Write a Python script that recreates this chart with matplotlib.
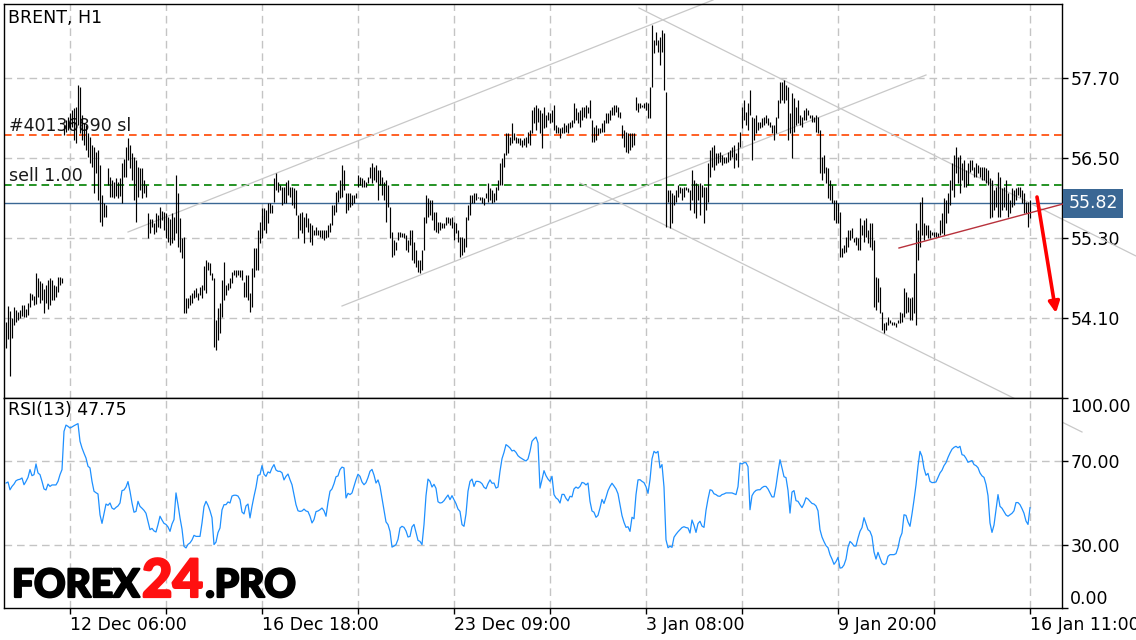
import numpy as np
import matplotlib.pyplot as plt
import matplotlib.transforms as mtransforms
import matplotlib.patheffects as pe

plt.rcParams['font.family'] = ['DejaVu Sans']
plt.rcParams['lines.scale_dashes'] = False

# BRENT H1 bars, one value per hour (high / low)
highs = [
    54.04, 54.28, 54.21, 54.10, 54.27, 54.22, 54.19, 54.22, 54.30, 54.30,
    54.24, 54.33, 54.48, 54.46, 54.43, 54.78, 54.70, 54.66, 54.63, 54.54,
    54.60, 54.67, 54.70, 54.67, 54.60, 54.58, 54.72, 54.72, 54.70, 57.00,
    57.07, 57.12, 57.18, 57.22, 57.25, 57.27, 57.60, 57.57, 57.15, 57.03,
    57.00, 56.88, 56.82, 56.70, 56.67, 56.59, 56.62, 56.40, 55.95, 55.83,
    55.80, 56.35, 56.22, 56.17, 56.14, 56.20, 56.14, 56.20, 56.43, 56.49,
    56.67, 56.80, 56.70, 56.58, 56.52, 56.47, 56.37, 56.35, 56.35, 56.17,
    56.10, 55.68, 55.59, 55.59, 55.53, 55.68, 55.65, 55.77, 55.71, 55.69,
    55.68, 55.62, 55.59, 55.68, 55.62, 56.25, 55.98, 55.60, 55.30, 55.32,
    54.40, 54.40, 54.45, 54.48, 54.52, 54.55, 54.48, 54.57, 54.60, 54.88,
    54.97, 54.94, 54.93, 54.78, 54.70, 54.07, 54.25, 54.33, 54.67, 54.94,
    54.60, 54.63, 54.70, 54.79, 54.82, 54.82, 54.82, 54.82, 54.82, 54.64,
    54.75, 54.75, 54.48, 54.85, 55.15, 55.15, 55.42, 55.54, 55.75, 55.75,
    55.72, 55.83, 55.83, 55.80, 56.20, 56.28, 56.14, 56.10, 56.07, 56.07,
    56.14, 56.17, 56.07, 56.07, 56.05, 56.02, 55.65, 55.68, 55.69, 55.62,
    55.68, 55.60, 55.53, 55.50, 55.42, 55.47, 55.42, 55.42, 55.42, 55.42,
    55.42, 55.50, 55.53, 55.80, 55.80, 55.99, 56.02, 56.17, 56.40, 56.32,
    55.98, 55.98, 55.98, 55.95, 55.95, 55.98, 56.25, 56.22, 56.20, 56.17,
    56.14, 56.22, 56.37, 56.43, 56.37, 56.40, 56.32, 56.32, 56.22, 56.14,
    56.17, 56.10, 55.77, 55.39, 55.27, 55.24, 55.39, 55.39, 55.38, 55.38,
    55.35, 55.27, 55.42, 55.42, 55.24, 55.12, 54.97, 54.97, 55.12, 55.62,
    55.95, 55.90, 55.87, 55.87, 55.69, 55.69, 55.54, 55.54, 55.53, 55.53,
    55.62, 55.62, 55.60, 55.62, 55.54, 55.53, 55.42, 55.32, 55.32, 55.30,
    55.62, 55.80, 55.95, 55.95, 55.98, 55.98, 55.92, 55.92, 55.92, 55.90,
    55.98, 56.13, 56.05, 56.02, 55.98, 56.07, 56.17, 56.43, 56.50, 56.58,
    56.88, 56.88, 56.82, 57.03, 56.88, 56.82, 56.80, 56.80, 56.77, 56.80,
    56.82, 56.89, 56.92, 57.22, 57.27, 57.30, 57.25, 57.22, 57.18, 57.27,
    57.15, 57.19, 57.18, 57.22, 57.30, 57.00, 56.97, 56.95, 56.97, 57.03,
    57.00, 57.03, 57.04, 57.07, 57.33, 57.25, 57.19, 57.22, 57.27, 57.27,
    57.30, 57.27, 57.37, 57.07, 56.97, 57.00, 56.95, 56.95, 57.03, 57.07,
    57.18, 57.18, 57.22, 57.27, 57.30, 57.30, 57.27, 57.19, 57.00, 56.92,
    56.89, 56.88, 56.88, 56.88, 56.88, 57.42, 57.33, 57.33, 57.30, 57.33,
    57.34, 57.33, 57.57, 58.50, 58.27, 58.39, 58.27, 58.32, 58.42, 58.38,
    57.49, 56.02, 56.02, 55.98, 55.95, 56.02, 56.10, 56.07, 56.05, 56.07,
    56.07, 56.05, 56.02, 56.32, 56.17, 56.13, 56.10, 56.13, 56.10, 56.07,
    56.07, 56.43, 56.62, 56.67, 56.70, 56.58, 56.58, 56.59, 56.55, 56.52,
    56.52, 56.59, 56.62, 56.67, 56.70, 56.58, 56.74, 56.89, 57.27, 57.37,
    57.19, 57.33, 57.52, 57.12, 57.10, 57.15, 57.04, 57.04, 57.10, 57.12,
    57.15, 57.10, 57.04, 57.00, 57.00, 57.12, 57.37, 57.64, 57.64, 57.67,
    57.60, 57.57, 57.18, 57.48, 57.40, 57.27, 57.37, 57.15, 57.12, 57.22,
    57.25, 57.22, 57.15, 57.15, 57.12, 57.15, 57.12, 56.92, 56.52, 56.55,
    56.37, 56.35, 56.17, 56.10, 55.87, 55.87, 55.83, 55.69, 55.15, 55.20,
    55.32, 55.42, 55.42, 55.45, 55.30, 55.32, 55.30, 55.60, 55.50, 55.57,
    55.60, 55.42, 55.53, 55.53, 55.27, 54.72, 54.70, 54.57, 54.19, 54.03,
    54.04, 54.12, 54.07, 54.04, 54.04, 54.03, 54.07, 54.19, 54.18, 54.55,
    54.49, 54.42, 54.40, 54.42, 54.78, 55.53, 55.42, 55.84, 55.92, 55.53,
    55.50, 55.50, 55.42, 55.39, 55.39, 55.39, 55.38, 55.57, 55.68, 55.90,
    55.87, 55.98, 56.17, 56.43, 56.55, 56.67, 56.52, 56.55, 56.43, 56.47,
    56.32, 56.43, 56.47, 56.47, 56.37, 56.43, 56.40, 56.37, 56.37, 56.37,
    56.35, 56.32, 56.20, 56.17, 56.02, 56.07, 56.29, 56.22, 56.05, 56.07,
    56.17, 55.98, 55.87, 56.05, 56.02, 56.05, 56.07, 56.07, 56.02, 55.98,
    55.84, 55.84, 55.87,
]
lows = [
    53.65, 53.79, 53.23, 53.80, 54.00, 54.04, 54.07, 54.10, 54.13, 54.12,
    54.12, 54.15, 54.27, 54.37, 54.30, 54.31, 54.42, 54.33, 54.37, 54.18,
    54.33, 54.24, 54.30, 54.37, 54.37, 54.42, 54.49, 54.60, 54.63, 56.85,
    56.89, 56.92, 56.95, 56.97, 56.77, 56.73, 57.00, 56.88, 56.77, 56.70,
    56.62, 56.52, 56.43, 56.37, 55.98, 56.28, 55.87, 55.54, 55.48, 55.62,
    55.62, 56.10, 55.92, 55.92, 55.90, 55.93, 55.90, 55.93, 55.83, 56.22,
    56.22, 56.47, 56.35, 56.17, 55.87, 55.54, 55.92, 56.02, 55.90, 55.98,
    55.92, 55.30, 55.38, 55.47, 55.36, 55.39, 55.47, 55.45, 55.57, 55.42,
    55.30, 55.24, 55.20, 55.23, 55.27, 55.38, 55.17, 55.09, 55.00, 54.18,
    54.18, 54.25, 54.30, 54.33, 54.40, 54.42, 54.37, 54.45, 54.40, 54.52,
    54.48, 54.82, 54.75, 54.67, 53.67, 53.62, 53.77, 53.88, 54.12, 54.37,
    54.45, 54.52, 54.55, 54.63, 54.75, 54.72, 54.75, 54.72, 54.67, 54.42,
    54.42, 54.37, 54.19, 54.27, 54.72, 54.82, 54.82, 55.23, 55.30, 55.42,
    55.38, 55.53, 55.68, 55.68, 55.84, 56.02, 55.99, 56.02, 55.80, 55.83,
    55.83, 55.95, 55.92, 55.80, 55.75, 55.65, 55.30, 55.42, 55.38, 55.23,
    55.47, 55.39, 55.24, 55.20, 55.35, 55.35, 55.35, 55.32, 55.30, 55.27,
    55.30, 55.32, 55.39, 55.50, 55.65, 55.69, 55.84, 55.90, 55.92, 56.02,
    55.68, 55.72, 55.77, 55.80, 55.83, 55.90, 56.07, 56.10, 56.07, 56.07,
    56.07, 56.13, 56.20, 56.13, 56.17, 56.14, 55.87, 56.10, 55.95, 55.87,
    55.54, 55.77, 55.30, 55.02, 55.05, 55.12, 55.27, 55.32, 55.32, 55.30,
    55.12, 55.09, 55.20, 54.97, 54.93, 54.87, 54.79, 54.78, 54.82, 55.12,
    55.53, 55.62, 55.65, 55.57, 55.42, 55.39, 55.38, 55.42, 55.45, 55.45,
    55.50, 55.53, 55.50, 55.45, 55.27, 55.38, 55.24, 55.02, 55.05, 55.09,
    55.17, 55.57, 55.65, 55.83, 55.83, 55.87, 55.90, 55.87, 55.83, 55.80,
    55.90, 55.84, 55.87, 55.83, 55.84, 55.87, 56.02, 56.10, 56.10, 56.37,
    56.55, 56.58, 56.70, 56.73, 56.77, 56.73, 56.73, 56.70, 56.67, 56.70,
    56.67, 56.73, 56.70, 56.88, 57.03, 56.92, 57.04, 56.88, 56.65, 56.95,
    56.97, 57.07, 57.03, 57.04, 56.92, 56.88, 56.88, 56.80, 56.88, 56.88,
    56.89, 56.88, 56.95, 56.97, 57.03, 57.07, 57.03, 56.97, 57.07, 57.12,
    57.10, 57.18, 57.10, 56.74, 56.74, 56.77, 56.85, 56.88, 56.89, 56.89,
    57.03, 57.03, 57.07, 57.15, 57.15, 57.19, 57.12, 57.10, 56.80, 56.67,
    56.59, 56.58, 56.62, 56.67, 56.70, 57.22, 57.19, 57.25, 57.27, 57.25,
    57.22, 57.10, 57.10, 57.57, 58.08, 58.20, 58.09, 57.90, 58.09, 57.52,
    55.47, 55.84, 55.45, 55.53, 55.80, 55.84, 55.92, 55.98, 55.87, 55.92,
    56.02, 55.99, 55.72, 55.87, 55.68, 55.60, 55.87, 55.65, 55.92, 55.53,
    55.72, 55.84, 56.22, 56.37, 56.32, 56.40, 56.43, 56.44, 56.40, 56.43,
    56.43, 56.44, 56.47, 56.52, 56.35, 56.47, 56.37, 56.67, 56.95, 57.07,
    57.00, 56.92, 57.15, 56.47, 56.77, 56.88, 56.92, 56.95, 56.97, 57.00,
    57.03, 57.00, 56.97, 56.88, 56.77, 56.88, 57.10, 57.33, 57.37, 57.33,
    57.37, 56.77, 56.88, 56.50, 56.89, 57.00, 57.03, 57.00, 56.97, 57.07,
    57.07, 57.15, 57.10, 57.04, 57.04, 56.89, 56.88, 56.28, 56.17, 56.28,
    56.13, 55.90, 55.87, 55.83, 55.57, 55.53, 55.53, 55.02, 55.02, 55.08,
    55.09, 55.17, 55.27, 55.30, 55.24, 55.20, 55.12, 55.12, 55.35, 55.24,
    55.32, 55.23, 55.17, 55.12, 54.27, 54.22, 54.34, 54.18, 53.92, 53.88,
    53.92, 54.00, 54.03, 54.00, 54.00, 53.97, 54.03, 54.03, 54.04, 54.12,
    54.18, 54.19, 54.07, 54.07, 54.18, 54.00, 54.97, 55.17, 55.35, 55.27,
    55.35, 55.30, 55.30, 55.35, 55.32, 55.32, 55.32, 55.35, 55.38, 55.35,
    55.53, 55.68, 55.80, 56.02, 55.92, 56.28, 56.13, 55.98, 56.17, 56.07,
    56.07, 56.10, 56.29, 56.32, 56.22, 56.22, 56.28, 56.22, 56.17, 56.17,
    56.13, 56.10, 55.60, 55.62, 55.72, 55.77, 55.62, 55.62, 55.72, 55.77,
    55.72, 55.62, 55.68, 55.77, 55.80, 55.87, 55.95, 55.92, 55.83, 55.68,
    55.68, 55.47, 55.60,
]

# RSI(13) per bar
rsi = [
    59.5, 60.0, 56.3, 57.9, 59.0, 60.6, 61.1, 61.3, 61.9, 58.7,
    60.3, 62.2, 65.9, 63.0, 63.5, 68.6, 64.3, 63.5, 60.3, 56.7,
    56.2, 59.0, 57.9, 58.6, 58.6, 58.6, 60.3, 63.5, 65.9, 84.1,
    87.1, 86.5, 85.7, 86.2, 86.8, 87.3, 87.8, 79.4, 76.2, 73.7,
    71.4, 67.5, 66.7, 60.3, 55.6, 54.9, 54.3, 44.4, 40.3, 44.8,
    49.5, 48.9, 50.0, 47.6, 47.0, 47.9, 48.6, 50.0, 55.9, 56.2,
    57.6, 60.2, 55.6, 50.0, 45.6, 46.0, 50.8, 48.4, 47.5, 46.5,
    45.1, 41.3, 37.3, 37.9, 36.7, 36.2, 39.7, 43.7, 41.9, 40.3,
    39.8, 38.6, 36.5, 40.0, 42.1, 54.8, 49.2, 42.9, 37.6, 29.4,
    28.6, 30.3, 31.0, 32.4, 34.6, 34.1, 34.1, 34.1, 40.5, 48.3,
    50.8, 48.9, 46.3, 43.0, 30.2, 31.4, 35.9, 38.1, 46.7, 49.2,
    49.2, 50.5, 50.0, 53.3, 53.7, 53.7, 53.3, 51.6, 45.7, 44.8,
    48.6, 49.5, 42.9, 48.4, 53.2, 57.5, 63.2, 63.5, 67.8, 63.7,
    62.7, 64.8, 64.3, 66.7, 68.3, 65.7, 65.1, 65.1, 64.4, 61.0,
    62.7, 63.8, 61.1, 58.7, 54.0, 49.2, 46.3, 46.0, 46.2, 47.1,
    46.2, 45.9, 43.7, 40.5, 42.1, 45.9, 46.2, 46.8, 47.6, 46.3,
    43.7, 50.3, 55.6, 56.7, 59.2, 62.5, 62.9, 65.9, 67.1, 66.7,
    52.4, 54.6, 54.0, 54.8, 57.9, 61.1, 63.7, 62.7, 60.0, 58.7,
    59.7, 62.1, 65.1, 66.0, 63.3, 59.5, 61.0, 57.9, 52.2, 46.2,
    41.0, 39.7, 36.5, 29.0, 29.5, 30.2, 32.7, 38.1, 38.9, 38.4,
    36.7, 33.8, 34.1, 38.6, 39.8, 36.0, 32.2, 31.7, 30.2, 39.7,
    53.5, 61.4, 60.3, 57.6, 58.9, 57.0, 50.6, 50.0, 50.2, 51.1,
    52.5, 53.8, 51.6, 53.5, 51.6, 49.7, 47.1, 46.0, 39.7, 38.9,
    44.8, 55.6, 60.3, 61.4, 57.9, 60.3, 60.3, 60.0, 59.2, 57.5,
    56.8, 59.2, 61.0, 59.4, 59.5, 57.1, 57.6, 65.1, 71.1, 74.1,
    77.8, 77.1, 76.2, 74.8, 75.1, 74.1, 72.5, 71.7, 71.1, 70.5,
    70.0, 71.0, 74.6, 79.4, 80.5, 81.4, 78.6, 57.1, 61.1, 65.4,
    63.0, 61.4, 60.3, 62.7, 54.0, 52.4, 51.7, 50.0, 54.1, 54.1,
    52.2, 51.0, 53.2, 52.9, 56.7, 57.6, 57.0, 57.9, 59.8, 59.5,
    58.6, 59.5, 50.8, 46.2, 45.6, 43.2, 44.1, 47.6, 51.7, 49.8,
    52.7, 55.9, 57.9, 59.4, 58.1, 56.7, 54.4, 49.2, 44.0, 40.8,
    38.4, 38.7, 36.5, 43.2, 42.5, 54.0, 61.0, 61.1, 60.3, 59.7,
    57.8, 54.6, 61.1, 71.0, 74.6, 73.8, 74.6, 66.7, 68.3, 57.6,
    32.5, 28.7, 29.4, 28.9, 33.7, 35.1, 36.3, 37.3, 38.3, 38.7,
    38.3, 38.1, 35.7, 41.9, 39.4, 36.0, 40.2, 41.3, 39.0, 38.4,
    46.5, 51.9, 56.3, 56.0, 54.4, 54.0, 53.3, 53.2, 54.0, 54.3,
    54.8, 54.8, 54.8, 54.8, 54.4, 54.0, 57.8, 69.0, 68.6, 69.2,
    69.2, 67.3, 46.8, 53.5, 55.1, 56.0, 56.3, 56.3, 57.3, 57.9,
    57.9, 56.7, 54.8, 52.9, 52.9, 58.1, 64.8, 70.6, 66.7, 62.5,
    62.1, 56.0, 45.2, 55.2, 55.9, 51.1, 50.8, 49.2, 47.8, 49.7,
    52.5, 51.9, 50.8, 49.8, 49.5, 48.6, 46.3, 37.3, 33.8, 31.6,
    29.7, 28.7, 25.4, 23.3, 20.8, 22.1, 24.1, 19.0, 19.2, 20.5,
    23.3, 29.0, 31.7, 30.8, 29.5, 29.5, 33.3, 36.5, 38.3, 43.0,
    40.2, 37.3, 36.5, 34.0, 26.7, 23.3, 26.5, 23.8, 21.3, 20.6,
    21.1, 24.6, 25.4, 25.4, 25.4, 25.9, 28.7, 33.3, 35.7, 44.4,
    44.1, 41.0, 38.9, 44.8, 51.4, 58.6, 67.5, 74.6, 72.2, 66.5,
    63.2, 64.1, 60.3, 59.7, 59.8, 60.0, 62.2, 64.3, 65.6, 67.8,
    69.2, 71.7, 73.8, 75.6, 76.5, 77.0, 76.3, 77.0, 73.0, 72.7,
    71.3, 69.4, 69.8, 70.2, 68.3, 67.8, 66.8, 64.3, 62.9, 62.2,
    58.9, 53.5, 40.5, 36.0, 39.5, 46.8, 54.0, 48.4, 47.5, 45.9,
    44.3, 43.7, 44.4, 45.1, 46.3, 50.2, 50.2, 49.2, 47.3, 45.1,
    41.4, 39.8, 47.75,
]

price_ticks = [57.70, 56.50, 55.30, 54.10]
rsi_ticks = [0, 30, 70, 100]
rsi_levels = [30, 70]
time_labels = ["12 Dec 06:00", "16 Dec 18:00", "23 Dec 09:00",
               "3 Jan 08:00", "9 Jan 20:00", "16 Jan 11:00"]
grid_bars = [32, 80, 128, 176, 224, 272, 320, 368, 416, 464, 512]

last_price = 55.82
sl_level = 56.85
sell_level = 56.10
rsi_last = 47.75

# hand drawn trend lines: (bar, price) -> (bar, price)
channel_lines = [
    ((61, 55.39), (353.5, 58.87)),
    ((168, 54.28), (460, 57.745)),
    ((316.5, 58.75), (565, 55.03)),
    ((287, 56.125), (538, 52.39)),
]
support_line = ((446.5, 55.15), (528.5, 55.81))
forecast_arrow = ((515.5, 55.915), (525, 54.175))

W, H = 1136, 640
fig = plt.figure(figsize=(W / 100, H / 100), dpi=100)
ax = fig.add_axes([4 / W, 1 - 398 / H, 1058 / W, 394 / H])
ax2 = fig.add_axes([4 / W, 1 - 608 / H, 1058 / W, 210 / H], sharex=ax)

grid_kw = dict(color='#c4c4c4', lw=1.0, ls=(0, (5.5, 3.5)), zorder=1)
for gx in grid_bars:
    ax.axvline(gx, **grid_kw)
    ax2.axvline(gx, **grid_kw)
for gy in price_ticks:
    ax.axhline(gy, **grid_kw)
for gy in rsi_levels:
    ax2.axhline(gy, **grid_kw)

# order levels
ax.axhline(sl_level, color='#ff4500', lw=1.2, ls=(0, (5.5, 3.5)), zorder=2)
ax.axhline(sell_level, color='#008000', lw=1.2, ls=(0, (5.5, 3.5)), zorder=2)
ax.axhline(last_price, color='#3a6794', lw=1.0, zorder=2)

trans_txt = mtransforms.blended_transform_factory(ax.transAxes, ax.transData)
ax.text(0.005, sl_level, "#40136890 sl", transform=trans_txt, fontsize=12.5,
        color='#1a1a1a', va='bottom', ha='left', zorder=2)
ax.text(0.005, sell_level, "sell 1.00", transform=trans_txt, fontsize=12.5,
        color='#1a1a1a', va='bottom', ha='left', zorder=2)

# price bars
bars_x = np.arange(len(highs))
ax.vlines(bars_x, lows, highs, color='black', lw=0.85, zorder=3)

# trend lines
for (x0, y0), (x1, y1) in channel_lines:
    ax.plot([x0, x1], [y0, y1], color='#c8c8c8', lw=0.9, zorder=2, clip_on=False)
ax.plot([support_line[0][0], support_line[1][0]], [support_line[0][1], support_line[1][1]],
        color='#b8323c', lw=1.0, zorder=4, clip_on=False)
ax.annotate('', xy=forecast_arrow[1], xytext=forecast_arrow[0],
            arrowprops=dict(arrowstyle='-|>', color='#ff0000', lw=2.6, mutation_scale=16,
                            shrinkA=0, shrinkB=0),
            annotation_clip=False, zorder=5)

ax.set_xlim(-1, 528)
ax.set_ylim(52.90, 58.81)
ax.yaxis.tick_right()
ax.set_yticks(price_ticks)
ax.set_yticklabels([f"{v:.2f}" for v in price_ticks])
ax.tick_params(axis='y', direction='out', length=4, width=1, pad=2, labelsize=12.5)
ax.tick_params(axis='x', bottom=False, labelbottom=False)

ax.text(1.006, last_price, f"{last_price:.2f}", transform=trans_txt,
        color='white', fontsize=12.5, va='center', ha='left', zorder=6,
        bbox=dict(boxstyle='square,pad=0.3', fc='#3a6794', ec='none'), clip_on=False)

# RSI panel
ax2.plot(np.arange(len(rsi)), rsi, color='#1e90ff', lw=0.9, zorder=3)
ax2.set_ylim(0, 100)
ax2.yaxis.tick_right()
ax2.set_yticks(rsi_ticks)
ax2.set_yticklabels([f"{v:.2f}" for v in rsi_ticks])
ax2.tick_params(axis='y', direction='out', length=4, width=1, pad=2, labelsize=12.5)
ylabs = ax2.get_yticklabels()
ylabs[0].set_va('bottom')
ylabs[-1].set_va('top')

ax2.set_xticks(grid_bars)
ax2.set_xticklabels([time_labels[k // 2] if k % 2 == 0 else "" for k in range(len(grid_bars))])
ax2.tick_params(axis='x', direction='out', length=4, width=1, pad=2, labelsize=12.5)
for lab in ax2.get_xticklabels():
    lab.set_ha('left')

for a in (ax, ax2):
    for sp in a.spines.values():
        sp.set_color('black')
        sp.set_linewidth(1.0)

fig.text(8 / W, 1 - 18 / H, "BRENT, H1", fontsize=12.5, va='center', ha='left')
fig.text(8 / W, 1 - 410 / H, f"RSI(13) {rsi_last:.2f}", fontsize=12.5, va='center', ha='left')

# watermark
fig.canvas.draw()
rend = fig.canvas.get_renderer()
wm_y = 1 - 597 / H
t1 = fig.text(12 / W, wm_y, "FOREX", fontsize=28, fontweight='black', family='Lato',
              color='black', va='baseline', ha='left',
              path_effects=[pe.withStroke(linewidth=1.6, foreground='black')])
bb = t1.get_window_extent(rend)
t2 = fig.text(bb.x1 / W + 0.002, wm_y, "24", fontsize=38, fontweight='black', family='Lato',
              color='#ff1010', va='baseline', ha='left',
              path_effects=[pe.withStroke(linewidth=1.6, foreground='#ff1010')])
bb = t2.get_window_extent(rend)
fig.text(bb.x1 / W + 0.002, wm_y, ".PRO", fontsize=28, fontweight='black', family='Lato',
         color='black', va='baseline', ha='left',
         path_effects=[pe.withStroke(linewidth=1.6, foreground='black')])

fig.savefig("out.png", dpi=100)
